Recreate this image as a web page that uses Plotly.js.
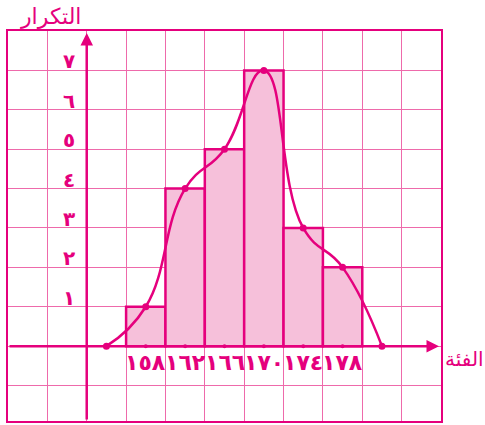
<!DOCTYPE html>
<html><head><meta charset="utf-8">
<script src="https://cdn.plot.ly/plotly-3.0.1.min.js"></script>
<style>html,body{margin:0;padding:0;background:#fff}</style>
</head><body>
<div id="chart" style="width:485px;height:425px"></div>
<script>
// Data
const classStarts = [158, 162, 166, 170, 174, 178];
const classLabels = ['١٥٨', '١٦٢', '١٦٦', '١٧٠', '١٧٤', '١٧٨'];
const frequencies = [1, 4, 5, 7, 3, 2];
const classWidth = 4;
const polyX = [156, 160, 164, 168, 172, 176, 180, 184];
const polyY = [0, 1, 4, 5, 7, 3, 2, 0];
const yTickVals = [1, 2, 3, 4, 5, 6, 7];
const yTickLabels = ['١', '٢', '٣', '٤', '٥', '٦', '٧'];
const yTitle = 'التكرار';
const xTitle = 'الفئة';

const MAG = '#E5007D';
const FILL = '#F6C0DA';
const GRID = '#EE6AAB';
const FONT = 'DejaVu Sans';
const xOrigin = 154, xMin = 146, xMax = 190, yMin = -1.9, yMax = 8;

const mids = classStarts.map(s => s + classWidth / 2);

const traces = [
  {
    type: 'bar', x: mids, y: frequencies, width: classWidth,
    marker: {color: FILL, line: {color: MAG, width: 2.5}},
    hoverinfo: 'skip'
  },
  {
    type: 'scatter', mode: 'lines+markers', x: polyX, y: polyY,
    line: {color: MAG, width: 2.5, shape: 'spline', smoothing: 1.3},
    marker: {color: MAG, size: 7},
    hoverinfo: 'skip'
  },
  {
    type: 'scatter', mode: 'markers', x: mids, y: mids.map(() => 0),
    marker: {color: MAG, size: 4}, hoverinfo: 'skip'
  }
];

const annotations = [];
// axes arrows
annotations.push({x: xMax - 0.2, y: 0, ax: xMin, ay: 0, axref: 'x', ayref: 'y', xref: 'x', yref: 'y',
  text: '', showarrow: true, arrowhead: 2, arrowsize: 1, arrowwidth: 2.5, arrowcolor: MAG, standoff: 0});
annotations.push({x: xOrigin, y: yMax - 0.05, ax: xOrigin, ay: yMin, axref: 'x', ayref: 'y', xref: 'x', yref: 'y',
  text: '', showarrow: true, arrowhead: 2, arrowsize: 1, arrowwidth: 2.5, arrowcolor: MAG, standoff: 0});
// y labels
yTickVals.forEach((v, i) => annotations.push({
  x: xOrigin, y: v, xref: 'x', yref: 'y', text: yTickLabels[i], showarrow: false,
  xanchor: 'right', yanchor: 'bottom', yshift: -5, xshift: -10,
  font: {family: FONT, size: 20, color: MAG, weight: 'bold'}
}));
// x labels
classStarts.forEach((s, i) => annotations.push({
  x: s + classWidth / 2, y: 0, xref: 'x', yref: 'y', text: classLabels[i], showarrow: false,
  xanchor: 'center', yanchor: 'top', yshift: -2,
  font: {family: FONT, size: 22, color: MAG, weight: 'bold'}
}));
// axis titles
annotations.push({text: yTitle, xref: 'paper', yref: 'paper', x: 0.097, y: 1.0, xanchor: 'center', yanchor: 'bottom', yshift: 0,
  showarrow: false, font: {family: FONT, size: 22, color: MAG}});
annotations.push({text: xTitle, xref: 'x', yref: 'y', x: xMax, y: 0, xanchor: 'left', yanchor: 'middle', xshift: 2, yshift: -13,
  showarrow: false, font: {family: FONT, size: 20, color: MAG}});

const layout = {
  width: 485, height: 425,
  margin: {l: 8, r: 44, t: 31, b: 4},
  paper_bgcolor: '#fff', plot_bgcolor: '#fff',
  showlegend: false,
  bargap: 0,
  xaxis: {range: [xMin, xMax], dtick: 4, tick0: xMin, showgrid: true, gridcolor: GRID, gridwidth: 1,
    zeroline: false, showticklabels: false, ticks: '', showline: true, mirror: true, linecolor: MAG, linewidth: 2},
  yaxis: {range: [yMin, yMax], dtick: 1, tick0: 0, showgrid: true, gridcolor: GRID, gridwidth: 1,
    zeroline: false, showticklabels: false, ticks: '', showline: true, mirror: true, linecolor: MAG, linewidth: 2},
  annotations: annotations
};

Plotly.newPlot('chart', traces, layout, {displayModeBar: false, staticPlot: true});
</script>
</body></html>
